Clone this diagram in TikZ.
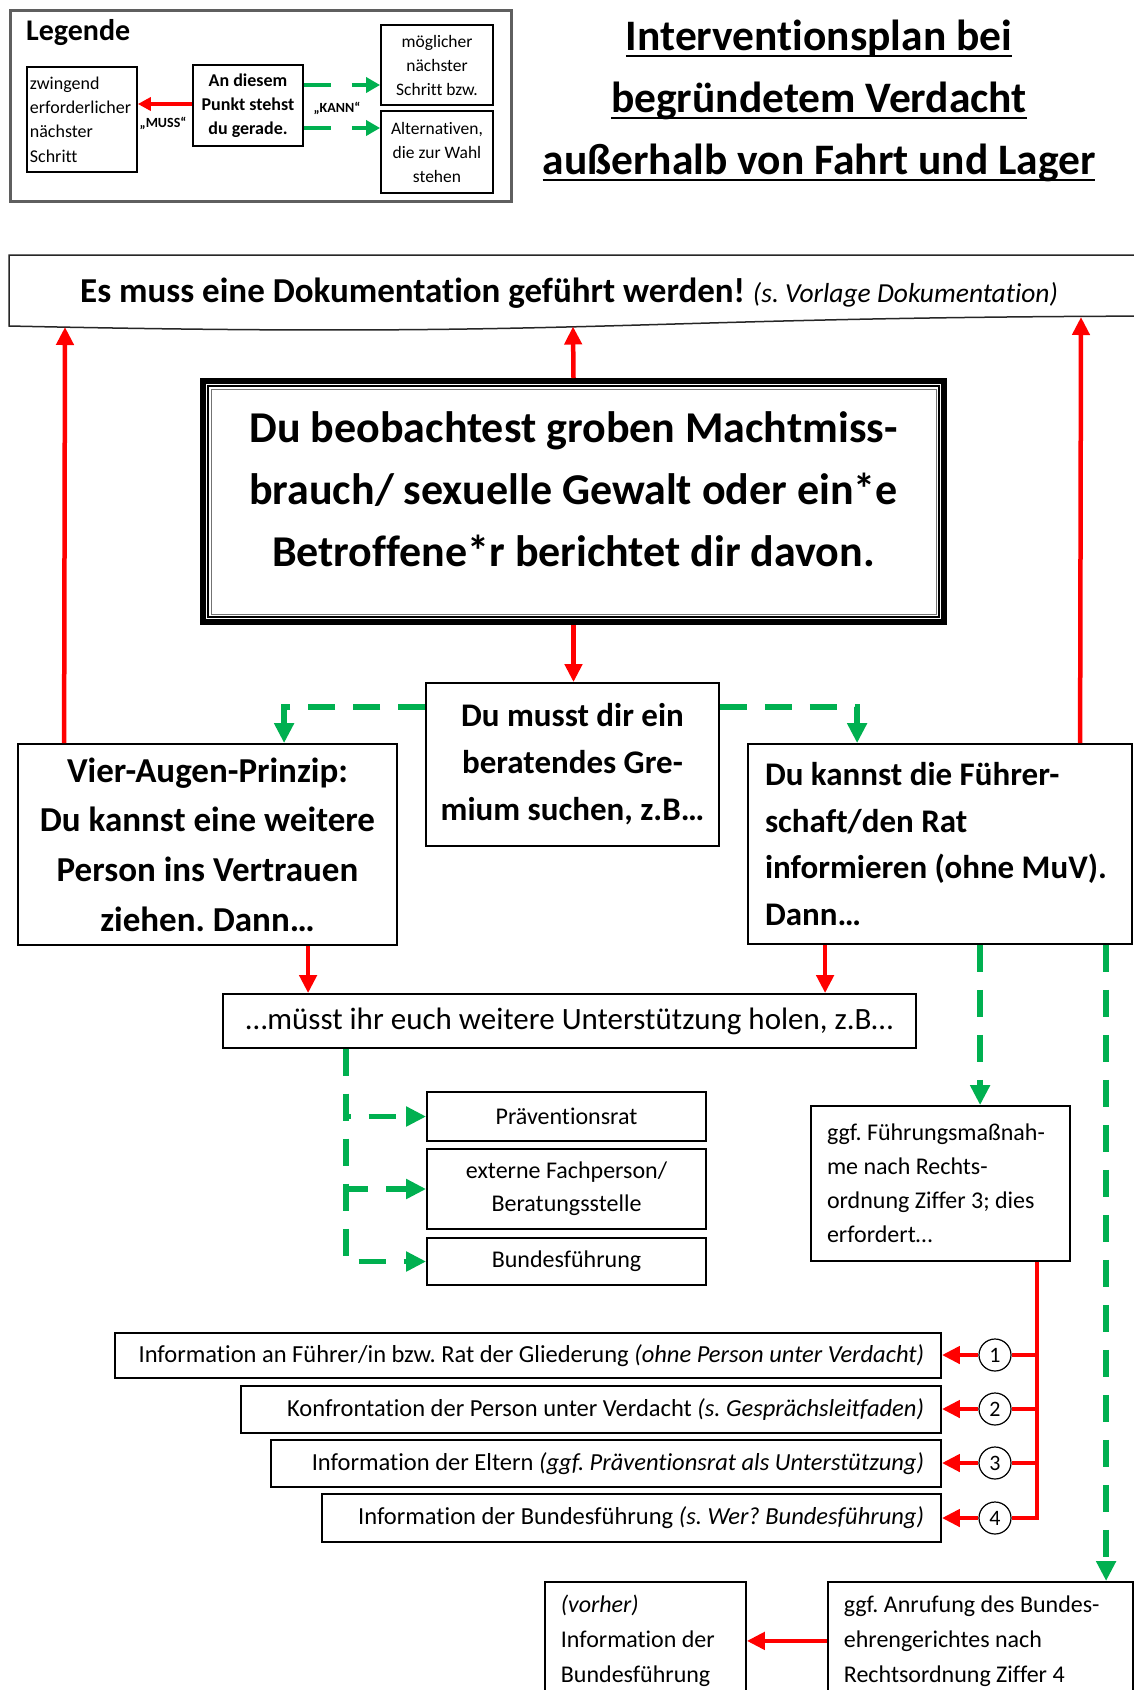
\documentclass[tikz,border=0pt]{standalone}
\usepackage{fontspec}
\setmainfont{Carlito}[Ligatures=NoCommon]
\usetikzlibrary{arrows.meta,calc}
\newcommand\fsz[2]{\fontsize{#1pt}{#2pt}\selectfont}
% heading underline with a rule that scales with the heading size
\newcommand\headul[1]{\setbox0\hbox{#1}\rlap{\rule[-6.5pt]{\wd0}{2.4pt}}\box0}
\definecolor{mussred}{RGB}{255,0,0}
\definecolor{kanngreen}{RGB}{0,176,80}
\definecolor{frameg}{RGB}{95,95,95}
\frenchspacing
\begin{document}
\frenchspacing
\begin{tikzpicture}[x=1pt,y=-1pt,
  box/.style={draw=black, line width=1.8pt, inner sep=0pt, fill=white},
  muss/.style={draw=mussred, line width=4.5pt, -{Triangle[length=18pt,width=17pt]}},
  mussline/.style={draw=mussred, line width=4.5pt},
  kann/.style={draw=kanngreen, line width=5.5pt, dash pattern=on 27pt off 18pt,
    -{Triangle[length=20pt,width=19pt]}},
  smallmuss/.style={draw=mussred, line width=3.5pt, -{Triangle[length=13pt,width=13pt]}},
  smallkann/.style={draw=kanngreen, line width=4.5pt, dash pattern=on 27pt off 21pt,
    -{Triangle[length=14pt,width=15pt]}},
  circ/.style={circle, draw=black, line width=1.2pt, fill=white, minimum size=32pt,
    inner sep=0pt, font=\fsz{22}{24}},
  infobox/.style={box, align=flush right, inner xsep=17pt, minimum height=46pt, font=\fsz{24.5}{30}},
  supbox/.style={box, minimum width=279pt, font=\fsz{24}{33}, align=center},
]
\useasboundingbox (0,0) rectangle (1134,1690);
\fill[white] (0,0) rectangle (1134,1690);
\clip (0,0) rectangle (1134,1690);

% ---------- legend ----------
\node[draw=frameg, line width=2.5pt, anchor=north west, minimum width=501pt,
  minimum height=191pt, inner sep=0pt] (legend) at (9,9) {};
\node[anchor=west, inner sep=0pt, font=\bfseries\fsz{30}{36}] (legtitle) at (26,33) {Legende};
\node[box, anchor=north west, minimum width=110pt, minimum height=105pt, text width=104pt,
  inner xsep=3pt, align=flush left, font=\fsz{18}{24.3}] (legmuss) at (26,66)
  {zwingend\\erforderlicher\\nächster\\Schritt};
\node[box, minimum width=110pt, minimum height=81pt, align=center,
  font=\bfseries\fsz{18}{24}] (legnow) at (248,105.5) {An diesem\\Punkt stehst\\du gerade.};
\node[box, minimum width=112pt, minimum height=80pt, align=center, font=\fsz{17.5}{24}]
  (legopt1) at (437,65) {möglicher\\nächster\\Schritt bzw.};
\node[box, minimum width=112pt, minimum height=82pt, align=center, font=\fsz{17.5}{24}]
  (legopt2) at (437,152) {Alternativen,\\die zur Wahl\\stehen};
\draw[smallmuss] ([yshift=1.5pt]legnow.west) -- ([yshift=1.5pt]legnow.west -| legmuss.east);
\draw[smallkann] ([yshift=20.5pt]legnow.east) -- ([yshift=20.5pt]legnow.east -| legopt1.west);
\draw[smallkann] ([yshift=-22.5pt]legnow.east) -- ([yshift=-22.5pt]legnow.east -| legopt2.west);
\node[font=\bfseries\fsz{14}{16}] (mussl) at (163,123) {„MUSS“};
\node[font=\bfseries\fsz{14}{16}] (kannl) at (337,108) {„KANN“};

% ---------- title ----------
\node[font=\bfseries\fsz{43.5}{62}, align=center] (title) at (819,101)
  {\headul{Interventionsplan bei}\\\headul{begründetem Verdacht}\\\headul{außerhalb von Fahrt und Lager}};

% ---------- documentation banner ----------
\draw[draw=black!85, line width=1.5pt, fill=white]
  (9,255) -- (1209,255) -- (1209,316) .. controls (609,316) and (609,339) .. (9,326) -- cycle;
\coordinate (docL) at (65,327);
\coordinate (docM) at (573,326.5);
\coordinate (docR) at (1081,317);
\node[anchor=base west, inner sep=0pt] (doc) at (80,302)
  {\bfseries\fsz{35}{40}Es muss eine Dokumentation geführt werden! {\mdseries\itshape\fsz{27.5}{30}(s. Vorlage Dokumentation)}};

% ---------- central situation ----------
\node[draw=black, line width=6pt, minimum width=741pt, minimum height=241pt, fill=white,
  inner sep=0pt] (main) at (573.5,501.5) {};
\draw[line width=1.4pt] ([shift={(8pt,-8pt)}]main.north west) rectangle ([shift={(-8pt,8pt)}]main.south east);
\draw[line width=1pt, black!55] ([shift={(11pt,-11pt)}]main.north west) rectangle ([shift={(-11pt,11pt)}]main.south east);
\node[align=center, font=\bfseries\fsz{44}{62}] (maintext) at (573.5,489)
  {Du beobachtest groben Machtmiss-\\brauch/ sexuelle Gewalt oder ein*e\\Betroffene*r berichtet dir davon.};

% ---------- second row ----------
\node[box, minimum width=293pt, minimum height=163pt, align=center, font=\bfseries\fsz{33}{47}]
  (musst) at (572.5,764.5) {Du musst dir ein\\beratendes Gre-\\mium suchen, z.B…};
\node[box, minimum width=379pt, minimum height=201pt, align=center, font=\bfseries\fsz{35}{49.7}]
  (vier) at (207.5,844.5) {Vier-Augen-Prinzip:\\Du kannst eine weitere\\Person ins Vertrauen\\ziehen. Dann…};
\node[box, minimum width=384pt, minimum height=200pt, text width=350pt, inner xsep=17pt,
  align=flush left, font=\bfseries\fsz{33}{46.5}]
  (fuehr) at (940,844) {Du kannst die Führer-\\schaft/den Rat\\informieren (ohne MuV).\\Dann…};

% ---------- support ----------
\node[box, minimum width=693pt, minimum height=54pt, font=\fsz{31}{36}]
  (hilfe) at (569.5,1021) {…müsst ihr euch weitere Unterstützung holen, z.B…};
\node[supbox, minimum height=49pt] (praev) at (566.5,1116.5) {Präventionsrat};
\node[supbox, minimum height=80pt] (ext) at (566.5,1189) {externe Fachperson/\\Beratungsstelle};
\node[supbox, minimum height=47pt] (bund) at (566.5,1261.5) {Bundesführung};

\node[box, minimum width=259pt, minimum height=155pt, text width=227pt, inner xsep=16pt,
  align=flush left, font=\fsz{24}{34}] (massn) at (940.5,1183.5)
  {ggf. Führungsmaßnah-\\me nach Rechts-\\ordnung Ziffer 3; dies\\erfordert…};

% ---------- required steps ----------
\node[infobox, minimum width=826pt, text width=792pt, minimum height=45pt] (i1) at (528,1355.5)
  {Information an Führer/in bzw. Rat der Gliederung \textit{(ohne Person unter Verdacht)}};
\node[infobox, minimum width=700pt, text width=666pt, minimum height=47pt] (i2) at (591,1409.5)
  {Konfrontation der Person unter Verdacht \textit{(s. Gesprächsleitfaden)}};
\node[infobox, minimum width=670pt, text width=636pt, minimum height=47pt] (i3) at (606,1463.5)
  {Information der Eltern \textit{(ggf. Präventionsrat als Unterstützung)}};
\node[infobox, minimum width=619pt, text width=585pt, minimum height=48pt] (i4) at (631.5,1518)
  {Information der Bundesführung \textit{(s. Wer? Bundesführung)}};

% ---------- bottom row ----------
\node[box, anchor=north west, minimum width=305pt, minimum height=118pt, text width=273pt,
  inner xsep=16pt, align=flush left, font=\fsz{24}{35}] (anruf) at (827,1581)
  {ggf. Anrufung des Bundes-\\ehrengerichtes nach\\Rechtsordnung Ziffer 4};
\node[box, anchor=north west, minimum width=201pt, minimum height=118pt, text width=169pt,
  inner xsep=16pt, align=flush left, font=\fsz{24}{35}] (vorher) at (544,1581)
  {\textit{(vorher)}\\Information der\\Bundesführung};

% ---------- connectors ----------
\draw[muss] (main.north) -- (docM);
\draw[muss] ([xshift=47pt]vier.north west) -- (docL);
\draw[muss] ([xshift=333pt]fuehr.north west) -- (docR);
\draw[muss] (main.south) -- (main.south |- musst.north);
\draw[kann] ([yshift=-25pt]musst.north west) -| ([xshift=267pt]vier.north west);
\draw[kann] ([yshift=-25pt]musst.north east) -| ([xshift=110pt]fuehr.north west);
\draw[muss] ([xshift=291pt]vier.south west) -- ([xshift=291pt]vier.south west |- hilfe.north);
\draw[muss] ([xshift=78pt]fuehr.south west) -- ([xshift=78pt]fuehr.south west |- hilfe.north);

\coordinate (hx) at ([xshift=124pt]hilfe.south west);
\draw[kann] (hx) |- (praev.west);
\draw[kann] (hx) |- (ext.west);
\draw[kann] (hx) |- (bund.west);

\draw[kann] ([xshift=233pt]fuehr.south west) -- ([xshift=233pt]fuehr.south west |- massn.north);
\draw[kann] ([xshift=359pt]fuehr.south west) -- ([xshift=359pt]fuehr.south west |- anruf.north);

\node[circ] (c1) at (995,1355) {1};
\node[circ] (c2) at (995,1409) {2};
\node[circ] (c3) at (995,1463) {3};
\node[circ] (c4) at (995,1518) {4};
\coordinate (spine) at ([xshift=227pt]massn.south west);
\draw[mussline] (spine) |- (c4.east);
\foreach \k in {1,2,3} {\draw[mussline] (c\k.east) -- (c\k.east -| spine);}
\foreach \k in {1,2,3,4} {\draw[muss] (c\k.west) -- (c\k.west -| i\k.east);}

\draw[muss] (anruf.west) -- (anruf.west -| vorher.east);
\end{tikzpicture}
\end{document}
